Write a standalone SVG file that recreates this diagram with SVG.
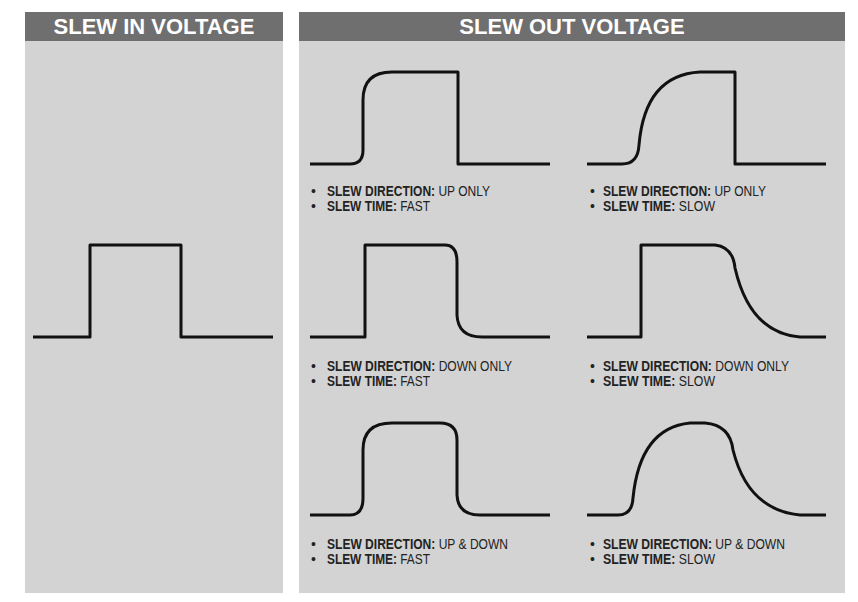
<svg xmlns="http://www.w3.org/2000/svg" width="858" height="602" viewBox="0 0 858 602">
<style>
.panel{fill:#d3d3d3}
.hdr{fill:#6f6f6f}
.ht{font-family:"Liberation Sans",Arial,sans-serif;font-weight:bold;font-size:22px;fill:#fff;text-anchor:middle}
.w{fill:none;stroke:#111;stroke-width:3;stroke-linejoin:round}
.t{font-family:"Liberation Sans",Arial,sans-serif;font-size:14px;fill:#222}
.b{font-weight:bold}
</style>
<rect width="858" height="602" fill="#fff"/>
<g id="left-panel">
<rect class="panel" x="25" y="12" width="258" height="581"/>
<rect class="hdr" x="25" y="12" width="258" height="29"/>
<text class="ht" x="154" y="34">SLEW IN VOLTAGE</text>
<path class="w" d="M33 337H90V245H181V337H273"/>
</g>
<g id="right-panel">
<rect class="panel" x="299" y="12" width="546" height="581"/>
<rect class="hdr" x="299" y="12" width="546" height="29"/>
<text class="ht" x="572" y="34">SLEW OUT VOLTAGE</text>
</g>
<g id="up-fast">
<path class="w" d="M310 164H350Q363 164 363 150V100Q363 72 392 72H458V164H550"/>
<text class="t" x="311" y="196">•</text><text class="t" x="327" y="196" textLength="163" lengthAdjust="spacingAndGlyphs"><tspan class="b">SLEW DIRECTION:</tspan> UP ONLY</text>
<text class="t" x="311" y="211">•</text><text class="t" x="327" y="211" textLength="103" lengthAdjust="spacingAndGlyphs"><tspan class="b">SLEW TIME:</tspan> FAST</text>
</g>
<g id="up-slow">
<path class="w" d="M587 164H622Q638 164 639 145Q645 75 700 72H735V164H826"/>
<text class="t" x="590" y="196">•</text><text class="t" x="603" y="196" textLength="163" lengthAdjust="spacingAndGlyphs"><tspan class="b">SLEW DIRECTION:</tspan> UP ONLY</text>
<text class="t" x="590" y="211">•</text><text class="t" x="603" y="211" textLength="112" lengthAdjust="spacingAndGlyphs"><tspan class="b">SLEW TIME:</tspan> SLOW</text>
</g>
<g id="down-fast">
<path class="w" d="M310 337H365V245H445Q457 245 457 262V315Q458 337 482 337H550"/>
<text class="t" x="311" y="371">•</text><text class="t" x="327" y="371" textLength="185" lengthAdjust="spacingAndGlyphs"><tspan class="b">SLEW DIRECTION:</tspan> DOWN ONLY</text>
<text class="t" x="311" y="386">•</text><text class="t" x="327" y="386" textLength="103" lengthAdjust="spacingAndGlyphs"><tspan class="b">SLEW TIME:</tspan> FAST</text>
</g>
<g id="down-slow">
<path class="w" d="M587 337H641V245H715Q733 247 735 268Q750 333 800 337H826"/>
<text class="t" x="590" y="371">•</text><text class="t" x="603" y="371" textLength="186" lengthAdjust="spacingAndGlyphs"><tspan class="b">SLEW DIRECTION:</tspan> DOWN ONLY</text>
<text class="t" x="590" y="386">•</text><text class="t" x="603" y="386" textLength="112" lengthAdjust="spacingAndGlyphs"><tspan class="b">SLEW TIME:</tspan> SLOW</text>
</g>
<g id="updown-fast">
<path class="w" d="M310 515H350Q363 515 363 498V450Q363 423 392 423H440Q457 423 457 440V495Q458 515 480 515H550"/>
<text class="t" x="311" y="549">•</text><text class="t" x="327" y="549" textLength="181" lengthAdjust="spacingAndGlyphs"><tspan class="b">SLEW DIRECTION:</tspan> UP &amp; DOWN</text>
<text class="t" x="311" y="564">•</text><text class="t" x="327" y="564" textLength="103" lengthAdjust="spacingAndGlyphs"><tspan class="b">SLEW TIME:</tspan> FAST</text>
</g>
<g id="updown-slow">
<path class="w" d="M587 515H618Q632 515 633 498Q640 428 690 423H705Q730 425 733 450Q748 510 800 515H826"/>
<text class="t" x="590" y="549">•</text><text class="t" x="603" y="549" textLength="182" lengthAdjust="spacingAndGlyphs"><tspan class="b">SLEW DIRECTION:</tspan> UP &amp; DOWN</text>
<text class="t" x="590" y="564">•</text><text class="t" x="603" y="564" textLength="112" lengthAdjust="spacingAndGlyphs"><tspan class="b">SLEW TIME:</tspan> SLOW</text>
</g>
</svg>
